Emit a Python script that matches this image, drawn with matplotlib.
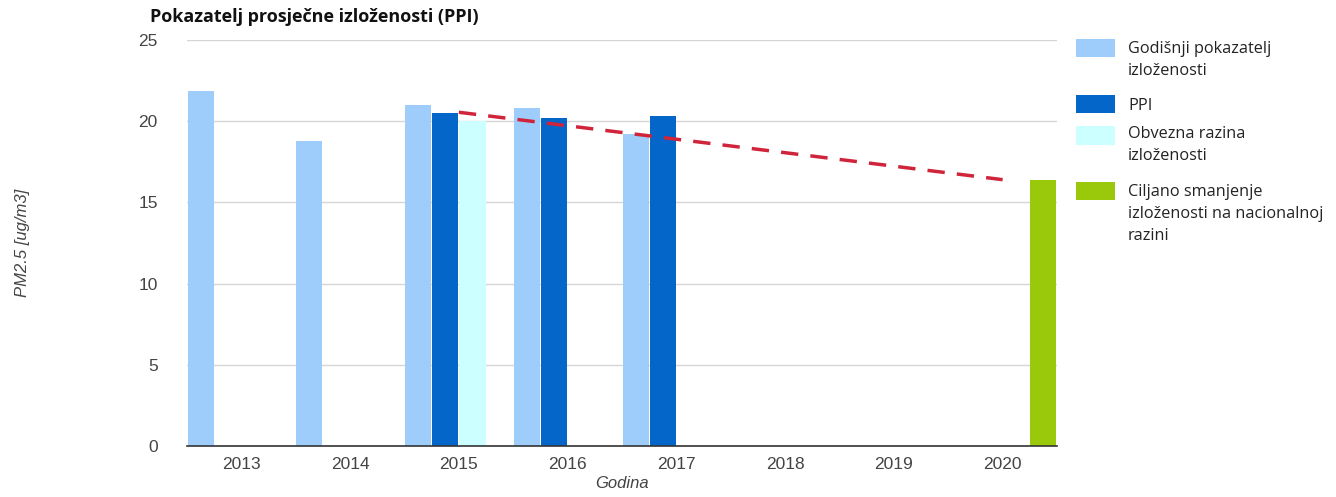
import matplotlib
matplotlib.use("Agg")
import matplotlib.pyplot as plt
from matplotlib.patches import Rectangle
import numpy as np

years = ["2013", "2014", "2015", "2016", "2017", "2018", "2019", "2020"]
godisnji = [21.85, 18.8, 21.0, 20.8, 19.2, None, None, None]
ppi = [None, None, 20.5, 20.2, 20.35, None, None, None]
obvezna = [None, None, 20.0, None, None, None, None, None]
ciljano = [None, None, None, None, None, None, None, 16.4]
trend_years = ["2015", "2020"]
trend_values = [20.55, 16.4]

series_labels = [["Godišnji pokazatelj", "izloženosti"], ["PPI"],
                 ["Obvezna razina", "izloženosti"],
                 ["Ciljano smanjenje", "izloženosti na nacionalnoj", "razini"]]
colors = ["#9ECDFB", "#0566C9", "#CCFFFF", "#99C90A"]

W, H = 1336, 497
fig = plt.figure(figsize=(W / 100, H / 100), dpi=100)
ax = fig.add_axes([187 / W, 1 - 446 / H, (1057 - 187) / W, (446 - 40) / H])

x = np.arange(len(years))
bw = 0.24
step = 0.25
for i, (vals, col) in enumerate(zip([godisnji, ppi, obvezna, ciljano], colors)):
    xs = [xx + (i - 1.5) * step for xx, v in zip(x, vals) if v is not None]
    vs = [v for v in vals if v is not None]
    ax.bar(xs, vs, width=bw, color=col, zorder=2, linewidth=0)

tx = [years.index(y) for y in trend_years]
ax.plot(tx, trend_values, color="#D0243A", linestyle=(0, (5, 3.5)), linewidth=2.5,
        zorder=3)

ax.set_xlim(-0.5, len(years) - 0.5)
ax.set_ylim(0, 25)
ax.set_yticks([0, 5, 10, 15, 20, 25])
ax.set_xticks(x)
ax.set_xticklabels(years)
ax.grid(axis="y", color="#D6D6D6", linewidth=1, zorder=0)
ax.set_axisbelow(True)
for s in ["top", "right", "left"]:
    ax.spines[s].set_visible(False)
ax.spines["bottom"].set_color("#333333")
ax.spines["bottom"].set_linewidth(1.2)
ax.spines["bottom"].set_zorder(4)
ax.tick_params(axis="both", length=0, labelsize=12.5, labelcolor="#444444",
               labelfontfamily="Liberation Sans")
ax.tick_params(axis="y", pad=21)
ax.tick_params(axis="x", pad=8)

fig.text(622 / W, 1 - 484 / H, "Godina", ha="center", va="center",
         fontsize=12, style="italic", color="#444444", family="Liberation Sans")
fig.text(22 / W, 1 - 243 / H, "PM2.5 [ug/m3]", ha="center", va="center",
         rotation=90, fontsize=12, style="italic", color="#444444",
         family="Liberation Sans")
fig.text(150 / W, 1 - 17 / H, "Pokazatelj prosječne izloženosti (PPI)",
         ha="left", va="center", fontsize=13, fontweight="bold",
         color="#111111", family="Open Sans")

# legend
leg_boxes = [(39, 57), (95, 113), (126, 145), (182, 200)]
leg_line_y = [[49, 71], [106], [134, 156], [192, 214, 236]]
for (y0, y1), lys, lines, col in zip(leg_boxes, leg_line_y, series_labels, colors):
    fig.patches.append(Rectangle((1076 / W, 1 - y1 / H), 39 / W, (y1 - y0) / H,
                                 transform=fig.transFigure, color=col,
                                 linewidth=0))
    for ly, line in zip(lys, lines):
        fig.text(1128 / W, 1 - ly / H, line, ha="left", va="center",
                 fontsize=11.7, color="#222222", family="Open Sans")

fig.savefig("out.png", dpi=100, facecolor="white")
